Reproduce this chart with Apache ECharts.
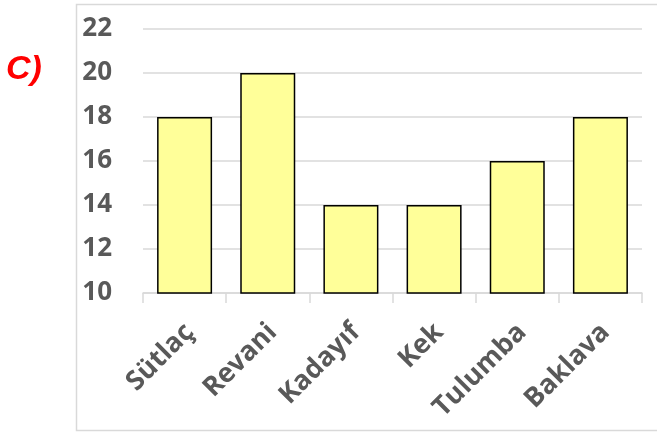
<!DOCTYPE html>
<html><head><meta charset="utf-8">
<script src="https://cdn.jsdelivr.net/npm/echarts@6/dist/echarts.min.js"></script>
<style>html,body{margin:0;padding:0;background:#fff}#c{width:657px;height:432px}</style>
</head><body><div id="c"></div>
<script>
const categories = ['Sütlaç', 'Revani', 'Kadayıf', 'Kek', 'Tulumba', 'Baklava'];
const values = [18, 20, 14, 14, 16, 18];
const yTicks = [10, 12, 14, 16, 18, 20, 22];

const chart = echarts.init(document.getElementById('c'));
chart.setOption({
  animation: false,
  graphic: [
    { type: 'rect', shape: { x: 76.5, y: 4.5, width: 600, height: 426 }, style: { fill: 'none', stroke: '#D9D9D9', lineWidth: 1.5 }, z: -1 },
    { type: 'text', left: 6, top: 53, style: { text: 'C)', fill: '#FF0000', font: 'italic bold 34px "Liberation Sans", sans-serif' } }
  ],
  grid: { left: 143, right: 15, top: 29, bottom: 139 },
  xAxis: {
    type: 'category', data: categories,
    axisLine: { lineStyle: { color: '#D9D9D9', width: 1.5 } },
    axisTick: { show: true, length: 10, lineStyle: { color: '#D9D9D9', width: 1.5 } },
    axisLabel: { rotate: 45, margin: 30, verticalAlign: 'top', lineHeight: 14, color: '#595959', fontSize: 27, fontWeight: 'bold', fontFamily: '"Open Sans", sans-serif', interval: 0 }
  },
  yAxis: {
    type: 'value', min: yTicks[0], max: yTicks[yTicks.length - 1], interval: 2,
    axisLine: { show: false }, axisTick: { show: false },
    splitLine: { lineStyle: { color: '#D9D9D9', width: 1.5 } },
    axisLabel: { margin: 31, color: '#595959', fontSize: 26, fontWeight: 'bold', fontFamily: '"Open Sans", sans-serif' }
  },
  series: [{
    type: 'bar', data: values, barWidth: 55,
    itemStyle: { color: '#FFFF99', borderColor: '#000', borderWidth: 1.5 }
  }]
});
</script></body></html>
